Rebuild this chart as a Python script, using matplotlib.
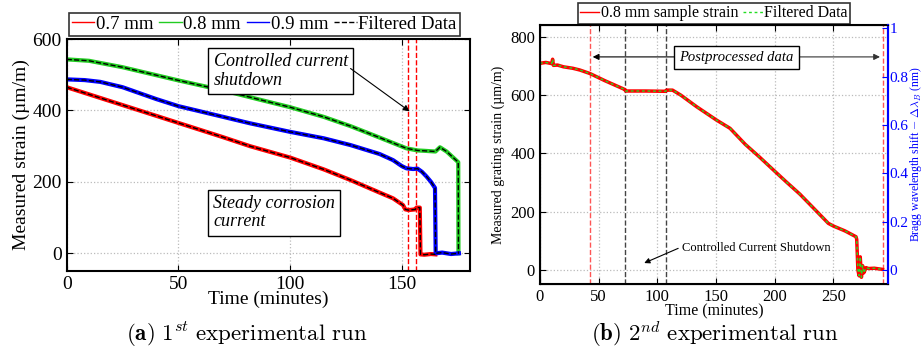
import numpy as np
import matplotlib
matplotlib.use('Agg')
import matplotlib.pyplot as plt

plt.rcParams['font.family'] = ['Liberation Serif', 'DejaVu Serif']
plt.rcParams['mathtext.fontset'] = 'cm'

RED = '#ff0000'
GREEN = '#22cc22'
BLUE = '#0000ff'

# ---- run 1 (left) ----
t_07 = [0, 10, 25, 50, 70, 82, 100, 115, 127, 140, 146, 150.5, 151.5, 153, 156, 156.5, 158, 158.3, 160, 163, 165]
s_07 = [465, 445, 415, 365, 325, 300, 268, 235, 205, 170, 154, 135, 123, 121, 123, 128, 128, -3, -4, -2, -3]

t_08 = [0, 10, 25, 50, 70, 86.5, 100, 115, 127, 140, 152, 157, 160, 165, 167, 170, 174, 175.2, 175.3]
s_08 = [543, 539, 521, 484, 456, 430, 409, 382, 356, 324, 294, 288, 287, 285, 297, 285, 262, 255, 0]

t_09 = [0, 8, 15, 25, 40, 50, 66, 82, 100, 115, 127, 140, 146, 150, 152, 155, 157, 159, 161, 163, 164.8, 165.1, 168, 172, 175.5]
s_09 = [487, 485, 480, 465, 432, 412, 388, 364, 340, 322, 303, 278, 261, 244, 238, 236, 237, 228, 215, 200, 183, 0, 2, -2, 0]

shutdown_1 = [152.5, 156.4]

# ---- run 2 (right) ----
t_r = [0, 5, 10, 10.8, 11.5, 15, 20, 28, 34, 42.6, 55, 72.4, 73, 90, 107, 108, 113, 120, 133.6, 150.6,
       162, 175, 187, 199, 210, 221.6, 233, 245.8, 250, 260, 269.4, 270, 271, 272, 273, 274, 275, 276, 278, 280, 285, 292]
s_r = [709, 712, 708, 723, 702, 703, 697, 692, 686, 674, 650, 619, 614, 614, 613, 617, 617, 600, 560, 514,
       486, 431, 388, 343, 302, 260, 213, 160, 151, 134, 114, 105, 0, -20, 45, -25, 15, -10, 8, 5, 6, 2]

post_lines = [42.6, 292.2]
shutdown_2 = [72.4, 107.4]
right_ticks = [0, 0.2, 0.4, 0.6, 0.8, 1]
right_labels = ['0', '0.2', '0.4', '0.6', '0.8', '1']

fig = plt.figure(figsize=(9.23, 3.54), dpi=100)

# ================= left panel =================
ax1 = fig.add_axes([0.0723, 0.2353, 0.437, 0.6545])
for v in shutdown_1:
    ax1.axvline(v, color=RED, ls='--', lw=1)
ax1.plot(t_07, s_07, color=RED, lw=3, label='0.7 mm')
ax1.plot(t_08, s_08, color=GREEN, lw=3, label='0.8 mm')
ax1.plot(t_09, s_09, color=BLUE, lw=3, label='0.9 mm')
ax1.plot(t_07, s_07, color='k', ls='--', lw=1, label='Filtered Data')
ax1.plot(t_08, s_08, color='k', ls='--', lw=1)
ax1.plot(t_09, s_09, color='k', ls='--', lw=1)
ax1.set_xlim(0, 180.5)
ax1.set_ylim(-48.7, 600)
ax1.set_xticks([0, 50, 100, 150])
ax1.set_yticks([0, 200, 400, 600])
ax1.grid(True, ls=':', color='#bbbbbb', lw=0.9)
ax1.tick_params(direction='in', top=True, right=True, labelsize=14, length=4)
for s in ax1.spines.values():
    s.set_linewidth(1.5)
ax1.set_xlabel('Time (minutes)', fontsize=14, labelpad=-1)
ax1.set_ylabel('Measured strain (\u00b5m/m)', fontsize=14, labelpad=2)

ax1.text(65.7, 560, 'Controlled current\nshutdown', style='italic', fontsize=13,
         ha='left', va='top', linespacing=1.1,
         bbox=dict(boxstyle='square,pad=0.3', fc='white', ec='k', lw=1))
ax1.annotate('', xy=(154.4, 393), xytext=(126, 522),
             arrowprops=dict(arrowstyle='-|>', color='k', lw=0.8, mutation_scale=9))
ax1.text(65.5, 163, 'Steady corrosion\ncurrent', style='italic', fontsize=13,
         ha='left', va='top', linespacing=1.1,
         bbox=dict(boxstyle='square,pad=0.3', fc='white', ec='k', lw=1))

leg1 = ax1.legend(ncol=4, loc='lower left', bbox_to_anchor=(0.005, 1.015), fontsize=13.5,
                  frameon=True, fancybox=False, edgecolor='k', handlelength=1.2,
                  handletextpad=0.1, columnspacing=0.3, borderpad=0.15, borderaxespad=0)
leg1.get_frame().set_linewidth(1.2)
for h in leg1.get_lines():
    h.set_linewidth(1)

# ================= right panel =================
ax2 = fig.add_axes([0.585, 0.197, 0.377, 0.732])
for v in post_lines:
    ax2.axvline(v, color='#ff5555', ls='--', lw=1)
for v in shutdown_2:
    ax2.axvline(v, color='#444444', ls='--', lw=1)
ax2.plot(t_r, s_r, color=RED, lw=2.5, label='0.8 mm sample strain')
ax2.plot(t_r, s_r, color='#22dd22', ls='--', lw=1, dashes=(2, 2), label='Filtered Data')
ax2.set_xlim(0, 296.6)
ax2.set_ylim(-49, 840)
ax2.set_xticks([0, 50, 100, 150, 200, 250])
ax2.set_yticks([0, 200, 400, 600, 800])
ax2.grid(True, ls=':', color='#bbbbbb', lw=0.9)
ax2.tick_params(direction='in', top=True, labelsize=12, length=4)
for s in ax2.spines.values():
    s.set_linewidth(1.5)
ax2.set_xlabel('Time (minutes)', fontsize=11.5, labelpad=-1)
ax2.set_ylabel('Measured grating strain (\u00b5m/m)', fontsize=10, labelpad=4)

ax2.text(167.7, 729, 'Postprocessed data', style='italic', fontsize=10.5, ha='center', va='center',
         bbox=dict(boxstyle='square,pad=0.35', fc='white', ec='k', lw=1), zorder=5)
ax2.annotate('', xy=(post_lines[0], 731), xytext=(119.4, 731),
             arrowprops=dict(arrowstyle='-|>', color='k', lw=0.8, mutation_scale=9))
ax2.annotate('', xy=(post_lines[1], 731), xytext=(216, 731),
             arrowprops=dict(arrowstyle='-|>', color='#333333', lw=0.8, mutation_scale=9))
ax2.text(121, 74, 'Controlled Current Shutdown', fontsize=9, ha='left', va='center')
ax2.annotate('', xy=(86.7, 20), xytext=(120, 78),
             arrowprops=dict(arrowstyle='-|>', color='k', lw=0.8, mutation_scale=8))

leg2 = ax2.legend(ncol=2, loc='lower center', bbox_to_anchor=(0.5, 1.005), fontsize=11.5,
                  frameon=True, fancybox=False, edgecolor='k', handlelength=1.2,
                  handletextpad=0.1, columnspacing=0.3, borderpad=0.15, borderaxespad=0)
leg2.get_frame().set_linewidth(1.2)
for h in leg2.get_lines():
    h.set_linewidth(1)

ax3 = ax2.twinx()
ax3.set_ylim(-0.0592, 1.0137)
ax3.set_yticks(right_ticks)
ax3.set_yticklabels(right_labels)
ax3.tick_params(direction='in', colors=BLUE, labelsize=11, length=4, pad=1)
ax3.spines['right'].set_color(BLUE)
ax3.spines['right'].set_linewidth(1.5)
ax3.set_ylabel(r'Bragg wavelength shift $-$ $\Delta\lambda_{B}$ (nm)', color=BLUE, fontsize=8.5, labelpad=0)

# ================= captions =================
fig.text(0.267, 0.056, r'$\mathbf{(a)}\ 1^{st}\ \mathrm{experimental\ run}$', fontsize=16.5, ha='center', va='center')
fig.text(0.774, 0.056, r'$\mathbf{(b)}\ 2^{nd}\ \mathrm{experimental\ run}$', fontsize=16.5, ha='center', va='center')

fig.savefig('out.png', dpi=100)
